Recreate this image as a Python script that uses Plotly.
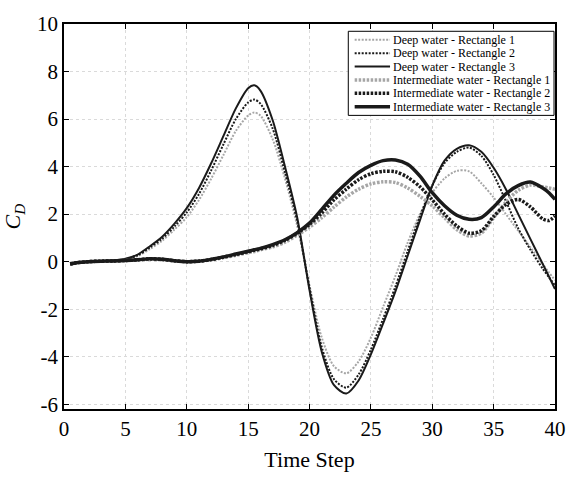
import plotly.graph_objects as go

# ---------------- data ----------------
time_step = [0.5, 1, 2, 3, 4, 5, 6, 7, 8, 9, 10, 11, 12, 13, 14, 15, 15.5, 16, 17, 18,
             19, 20, 21, 22, 23, 24, 25, 26, 27, 28, 29, 30, 31, 32, 33, 34, 35, 36, 37,
             38, 39, 39.5, 40]

deep_r1 = [-0.1, -0.05, 0.0, 0.02, 0.04, 0.08, 0.23, 0.53, 0.88, 1.35, 1.87, 2.6, 3.5, 4.5,
           5.5, 6.15, 6.28, 6.15, 5.15, 3.5, 1.5, -1.0, -3.2, -4.4, -4.7, -4.2, -3.2, -1.9,
           -0.6, 0.8, 2.0, 2.9, 3.5, 3.82, 3.8, 3.3, 2.7, 2.0, 1.3, 0.6, -0.1, -0.45, -0.78]
deep_r2 = [-0.1, -0.05, 0.0, 0.02, 0.05, 0.1, 0.27, 0.6, 0.97, 1.48, 2.07, 2.85, 3.85, 4.95,
           6.0, 6.7, 6.82, 6.65, 5.6, 3.75, 1.7, -1.1, -3.6, -4.95, -5.3, -4.75, -3.7, -2.4,
           -1.05, 0.45, 1.9, 3.2, 4.15, 4.62, 4.8, 4.45, 3.65, 2.55, 1.4, 0.5, -0.3, -0.65, -1.0]
deep_r3 = [-0.1, -0.05, 0.0, 0.02, 0.05, 0.12, 0.3, 0.65, 1.05, 1.6, 2.25, 3.1, 4.15, 5.3,
           6.45, 7.3, 7.42, 7.2, 5.95, 4.0, 1.85, -1.2, -3.8, -5.2, -5.55, -5.0, -3.9, -2.6,
           -1.25, 0.25, 1.75, 3.2, 4.25, 4.75, 4.9, 4.62, 3.95, 3.05, 2.0, 0.95, -0.1, -0.62, -1.15]
int_r1 = [-0.1, -0.05, 0.0, 0.02, 0.03, 0.05, 0.07, 0.1, 0.08, 0.03, 0.0, 0.02, 0.08, 0.17,
          0.27, 0.38, 0.43, 0.5, 0.62, 0.82, 1.12, 1.45, 1.85, 2.3, 2.72, 3.05, 3.27, 3.36,
          3.33, 3.1, 2.75, 2.35, 1.85, 1.35, 1.08, 1.2, 1.85, 2.5, 3.0, 3.22, 3.15, 3.1, 3.05]
int_r2 = [-0.1, -0.05, 0.0, 0.02, 0.03, 0.05, 0.08, 0.12, 0.1, 0.04, 0.0, 0.02, 0.09, 0.19,
          0.3, 0.42, 0.48, 0.54, 0.68, 0.9, 1.2, 1.57, 2.05, 2.6, 3.05, 3.45, 3.7, 3.8, 3.78,
          3.55, 3.15, 2.6, 2.0, 1.5, 1.2, 1.3, 1.9, 2.4, 2.62, 2.3, 1.8, 1.73, 1.92]
int_r3 = [-0.1, -0.05, 0.0, 0.02, 0.03, 0.05, 0.08, 0.12, 0.1, 0.04, 0.0, 0.02, 0.1, 0.2,
          0.32, 0.44, 0.5, 0.56, 0.72, 0.92, 1.22, 1.62, 2.2, 2.8, 3.3, 3.75, 4.05, 4.25,
          4.28, 4.1, 3.6, 2.9, 2.35, 1.95, 1.78, 1.85, 2.3, 2.85, 3.2, 3.35, 3.1, 2.9, 2.62]

series_names = ["Deep water - Rectangle 1", "Deep water - Rectangle 2", "Deep water - Rectangle 3",
                "Intermediate water - Rectangle 1", "Intermediate water - Rectangle 2",
                "Intermediate water - Rectangle 3"]
series_values = [deep_r1, deep_r2, deep_r3, int_r1, int_r2, int_r3]

x_ticks = [0, 5, 10, 15, 20, 25, 30, 35, 40]
y_ticks = [-6, -4, -2, 0, 2, 4, 6, 8, 10]
y_tick_labels = ["-6", "-4", "-2", "0", "2", "4", "6", "8", "10"]

# ---------------- styles ----------------
styles = [
    dict(color="#a6a6a6", width=2.0, dash="2px,1.5px"),
    dict(color="#1a1a1a", width=2.0, dash="2px,1.5px"),
    dict(color="#1a1a1a", width=2.0, dash="solid"),
    dict(color="#a6a6a6", width=3.5, dash="2.5px,1.5px"),
    dict(color="#1a1a1a", width=3.5, dash="2.5px,1.5px"),
    dict(color="#1a1a1a", width=3.5, dash="solid"),
]

FONT = "Liberation Serif"
ML, MR, MT, MB = 63, 15, 17, 67
W, H = 578, 480
PW, PH = W - ML - MR, H - MT - MB


def px_x(px):
    return (px - ML) / PW


def px_y(py):
    return (H - MB - py) / PH


fig = go.Figure()
for name, vals, st in zip(series_names, series_values, styles):
    fig.add_trace(go.Scatter(x=time_step, y=vals, mode="lines", name=name,
                             line=dict(color=st["color"], width=st["width"], dash=st["dash"],
                                       shape="spline", smoothing=0.8),
                             showlegend=False))

axis_common = dict(
    showline=True, linecolor="black", linewidth=1.5, mirror="ticks",
    ticks="inside", ticklen=5, tickwidth=1, tickcolor="black",
    showgrid=True, gridcolor="#dadada", gridwidth=1, griddash="dot",
    zeroline=False, tickfont=dict(family=FONT, size=21, color="black"),
)

fig.update_layout(
    width=W, height=H,
    margin=dict(l=ML, r=MR, t=MT, b=MB),
    paper_bgcolor="white", plot_bgcolor="white",
    font=dict(family=FONT, color="black"),
    xaxis=dict(range=[0, 40], tickvals=x_ticks, ticktext=[str(v) for v in x_ticks],
               title=dict(text="Time Step", font=dict(family=FONT, size=22), standoff=12),
               **axis_common),
    yaxis=dict(range=[-6.2, 10], tickvals=y_ticks, ticktext=y_tick_labels,
               title=dict(text="<i>C<sub>D</sub></i>", font=dict(family=FONT, size=22), standoff=10),
               **axis_common),
)

# ---------------- custom legend ----------------
shapes = [dict(type="rect", xref="paper", yref="paper",
               x0=px_x(352.5), x1=px_x(562), y0=px_y(111), y1=px_y(24.5),
               fillcolor="white", line=dict(color="black", width=1), layer="above")]
annotations = []
row_y = [33.3, 47.0, 60.8, 74.5, 88.2, 102.0]
for name, st, ry in zip(series_names, styles, row_y):
    shapes.append(dict(type="line", xref="paper", yref="paper",
                       x0=px_x(359), x1=px_x(395), y0=px_y(ry), y1=px_y(ry),
                       line=dict(color=st["color"], width=st["width"], dash=st["dash"]),
                       layer="above"))
    annotations.append(dict(xref="paper", yref="paper", x=px_x(396.5), y=px_y(ry),
                            xanchor="left", yanchor="middle", showarrow=False, text=name,
                            font=dict(family=FONT, size=12, color="black")))
fig.update_layout(shapes=shapes, annotations=annotations)

fig.write_html("out.html")
